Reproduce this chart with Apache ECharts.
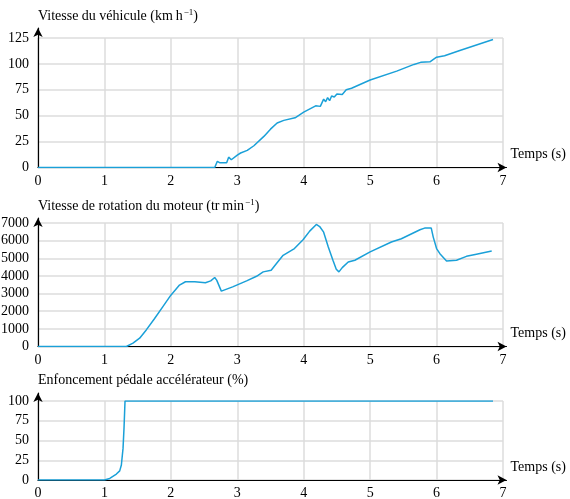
<!DOCTYPE html>
<html><head><meta charset="utf-8">
<script src="https://cdn.jsdelivr.net/npm/echarts@6/dist/echarts.min.js"></script>
<style>html,body{margin:0;padding:0;background:#fff}#c{width:570px;height:499px}</style>
</head><body><div id="c"></div>
<script>
// Vitesse du véhicule (km/h)
const speedT = [0,2.66,2.70,2.74,2.84,2.87,2.91,3.0,3.05,3.15,3.25,3.4,3.5,3.6,3.7,3.87,4.0,4.18,4.25,4.30,4.33,4.36,4.39,4.42,4.46,4.50,4.58,4.64,4.72,5.0,5.4,5.66,5.76,5.9,6.0,6.12,6.35,6.85];
const speedV = [0,0,6,4.5,4.5,10,7.5,12,14,16.5,21,30,37,43,45.5,48,53.5,59.5,59,66,63.5,67.5,64.5,69,68,71,70.5,75,76.5,84.5,93,99.5,101.5,102,106.5,107.8,113,123.5];
// Vitesse de rotation du moteur (tr/min)
const rpmT = [0,1.33,1.43,1.53,1.63,1.75,1.88,2.0,2.13,2.22,2.36,2.52,2.60,2.66,2.69,2.76,2.93,3.14,3.29,3.39,3.51,3.59,3.69,3.86,3.99,4.09,4.19,4.24,4.30,4.37,4.44,4.49,4.53,4.58,4.67,4.77,5.0,5.32,5.47,5.75,5.82,5.92,5.95,6.0,6.05,6.15,6.30,6.45,6.60,6.83];
const rpmV = [0,0,190,470,940,1560,2260,2910,3480,3670,3670,3610,3720,3910,3760,3140,3380,3720,3980,4230,4320,4700,5170,5550,6050,6540,6920,6800,6480,5640,4890,4380,4230,4470,4790,4890,5360,5920,6110,6620,6710,6710,6200,5550,5260,4850,4890,5110,5230,5410];
// Enfoncement pédale accélérateur (%)
const pedalT = [0,1.0,1.08,1.18,1.23,1.255,1.28,1.295,1.31,6.85];
const pedalV = [0,0,2,7.5,11.5,19,40,66,100,100];

const titles = [
  '{a|Vitesse du véhicule (km\u2009h}{s|\u22121}{a|)}',
  '{a|Vitesse de rotation du moteur (tr\u2009min}{s|\u22121}{a|)}',
  '{a|Enfoncement pédale accélérateur (%)}'
];
const yMax = [125, 7000, 100];
const yInt = [25, 1000, 25];
const xName = 'Temps (s)';

const FONT = 'Liberation Serif';
const BLUE = '#1aa0d8';
const GRIDC = '#dcdcdc';

const layouts = [
  {top: 38, bottom: 331.5, titleTop: 8, ovTop: 28},
  {top: 223, bottom: 152.5, titleTop: 198, ovTop: 218},
  {top: 401, bottom: 19, titleTop: 372, ovTop: 393}
];

const grids = [], xAxes = [], yAxes = [], series = [], title = [];
const datasets = [[speedT, speedV], [rpmT, rpmV], [pedalT, pedalV]];
const ylbl = {show: true, margin: 9, color: '#000', fontFamily: FONT, fontSize: 14, formatter: v => String(v)};
const xlbl = {show: true, margin: 6.5, color: '#000', fontFamily: FONT, fontSize: 14, formatter: v => String(v)};
layouts.forEach((L, i) => {
  grids.push({left: 38, right: 67, top: L.top, bottom: L.bottom, containLabel: false, outerBoundsMode: 'none'});
  grids.push({left: 38, right: 63.5, top: L.ovTop, bottom: L.bottom, containLabel: false, outerBoundsMode: 'none'});
  const gi = 2 * i;
  xAxes.push({gridIndex: gi, type: 'value', min: 0, max: 7, interval: 1,
    axisLine: {show: false}, axisTick: {show: false}, axisLabel: xlbl,
    splitLine: {show: true, lineStyle: {color: GRIDC, width: 1.5}}});
  yAxes.push({gridIndex: gi, type: 'value', min: 0, max: yMax[i], interval: yInt[i],
    axisLine: {show: false}, axisTick: {show: false}, axisLabel: ylbl,
    splitLine: {show: true, lineStyle: {color: GRIDC, width: 1.5}}});
  xAxes.push({gridIndex: gi + 1, type: 'value', min: 0, max: 1,
    axisLine: {show: true, onZero: false, symbol: ['none', 'arrow'], symbolSize: [7, 9], lineStyle: {color: '#000', width: 1.2}},
    axisTick: {show: false}, axisLabel: {show: false}, splitLine: {show: false},
    name: xName, nameLocation: 'end', nameGap: 4,
    nameTextStyle: {color: '#000', fontFamily: FONT, fontSize: 14, fontWeight: 'normal', align: 'left', verticalAlign: 'bottom', lineHeight: 16, padding: [0, 0, 5, 0]}});
  yAxes.push({gridIndex: gi + 1, type: 'value', min: 0, max: 1,
    axisLine: {show: true, onZero: false, symbol: ['none', 'arrow'], symbolSize: [7, 9], lineStyle: {color: '#000', width: 1.2}},
    axisTick: {show: false}, axisLabel: {show: false}, splitLine: {show: false}});
  const [T, V] = datasets[i];
  series.push({type: 'line', xAxisIndex: gi, yAxisIndex: gi, data: T.map((t, k) => [t, V[k]]),
    showSymbol: false, symbol: 'none', lineStyle: {color: BLUE, width: 1.5}, z: 5, animation: false});
  title.push({left: 38, top: L.titleTop, padding: 0, text: titles[i],
    textStyle: {fontWeight: 'normal', rich: {
      a: {fontFamily: FONT, fontSize: 14, fontWeight: 'normal', color: '#000', lineHeight: 16},
      s: {fontFamily: FONT, fontSize: 9, fontWeight: 'normal', color: '#000', lineHeight: 16, verticalAlign: 'top', padding: [0, 0, 0, 1]}
    }}});
});

const chart = echarts.init(document.getElementById('c'), null, {renderer: 'canvas'});
chart.setOption({animation: false, title, grid: grids, xAxis: xAxes, yAxis: yAxes, series});
</script></body></html>
